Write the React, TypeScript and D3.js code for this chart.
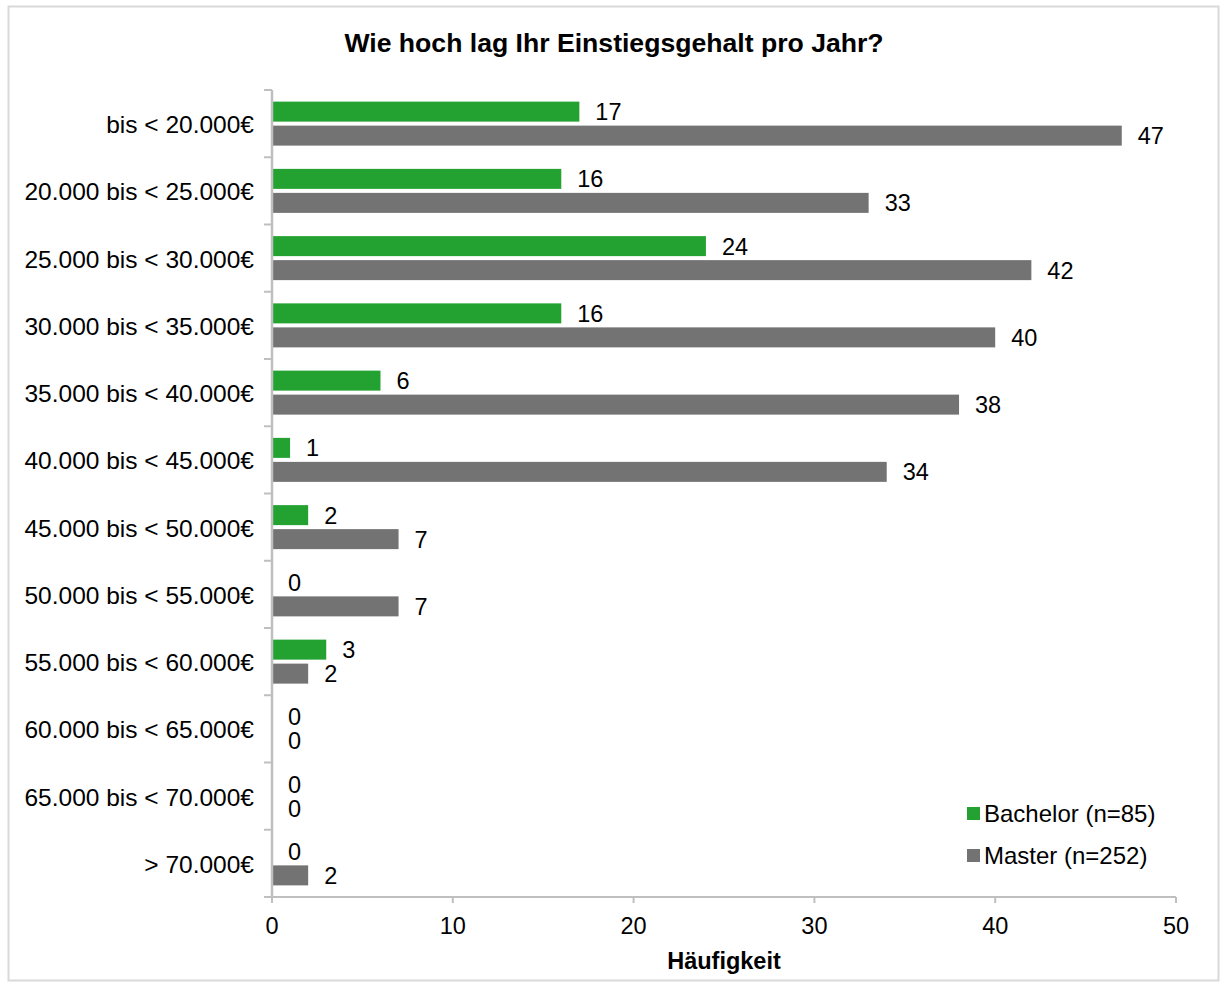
import React from "react";
import * as d3 from "d3";

const categories = [
  "bis < 20.000€",
  "20.000 bis < 25.000€",
  "25.000 bis < 30.000€",
  "30.000 bis < 35.000€",
  "35.000 bis < 40.000€",
  "40.000 bis < 45.000€",
  "45.000 bis < 50.000€",
  "50.000 bis < 55.000€",
  "55.000 bis < 60.000€",
  "60.000 bis < 65.000€",
  "65.000 bis < 70.000€",
  "> 70.000€",
];
const bachelor = [17, 16, 24, 16, 6, 1, 2, 0, 3, 0, 0, 0];
const master = [47, 33, 42, 40, 38, 34, 7, 7, 2, 0, 0, 2];
const xTicks = [0, 10, 20, 30, 40, 50];
const seriesNames = ["Bachelor (n=85)", "Master (n=252)"];
const colors = ["#23a232", "#737373"];

export default function App() {
  const W = 1226, H = 984;
  const left = 272, right = 1176, top = 90, bottom = 897;
  const x = d3.scaleLinear().domain([0, 50]).range([left, right]);
  const y = d3.scaleBand().domain(categories).range([top, bottom]).padding(0);
  const barH = 20, gap = 4;
  const font = "'Liberation Sans', Arial, sans-serif";
  const axisColor = "#bfbfbf";
  const series = [bachelor, master];

  return (
    <svg width={W} height={H} style={{ position: "absolute", left: 0, top: 0 }} fontFamily={font}>
      <rect x={0} y={0} width={W} height={H} fill="#fff" />
      <rect x={8.5} y={6.5} width={1210} height={974} fill="#fff" stroke="#d9d9d9" strokeWidth={2} />
      <text x={614} y={52} textAnchor="middle" fontSize={26.6} fontWeight="bold" fill="#000">
        Wie hoch lag Ihr Einstiegsgehalt pro Jahr?
      </text>
      {/* bars */}
      {categories.map((c, i) => {
        const yc = (y(c) as number) + y.bandwidth() / 2;
        return (
          <g key={c}>
            {series.map((s, k) => {
              const by = k === 0 ? yc - gap / 2 - barH : yc + gap / 2;
              const v = s[i];
              return (
                <g key={k}>
                  {v > 0 && (
                    <rect x={x(0)} y={by} width={x(v) - x(0)} height={barH} fill={colors[k]} />
                  )}
                  <text x={x(v) + 16} y={by + barH / 2 + 8.5} fontSize={23.5} fill="#000">
                    {v}
                  </text>
                </g>
              );
            })}
            <text x={254} y={yc + 9.5} textAnchor="end" fontSize={24.5} fill="#000">
              {c}
            </text>
          </g>
        );
      })}
      {/* y axis */}
      <line x1={left} x2={left} y1={top} y2={bottom} stroke={axisColor} strokeWidth={2.5} />
      {categories.concat([""]).map((c, i) => {
        const ty = top + i * y.bandwidth();
        return <line key={i} x1={264} x2={left} y1={ty} y2={ty} stroke={axisColor} strokeWidth={2} />;
      })}
      {/* x axis */}
      <line x1={264} x2={right} y1={bottom} y2={bottom} stroke={axisColor} strokeWidth={2} />
      {xTicks.map((t) => (
        <g key={t}>
          <line x1={x(t)} x2={x(t)} y1={bottom} y2={bottom + 6} stroke={axisColor} strokeWidth={2} />
          <text x={x(t)} y={933.5} textAnchor="middle" fontSize={23.5} fill="#000">
            {t}
          </text>
        </g>
      ))}
      <text x={724} y={969} textAnchor="middle" fontSize={23.5} fontWeight="bold" fill="#000">
        Häufigkeit
      </text>
      {/* legend */}
      {seriesNames.map((n, k) => (
        <g key={n}>
          <rect x={967} y={807 + k * 42} width={13} height={13} fill={colors[k]} />
          <text x={984} y={822 + k * 42} fontSize={24} fill="#000">
            {n}
          </text>
        </g>
      ))}
    </svg>
  );
}
